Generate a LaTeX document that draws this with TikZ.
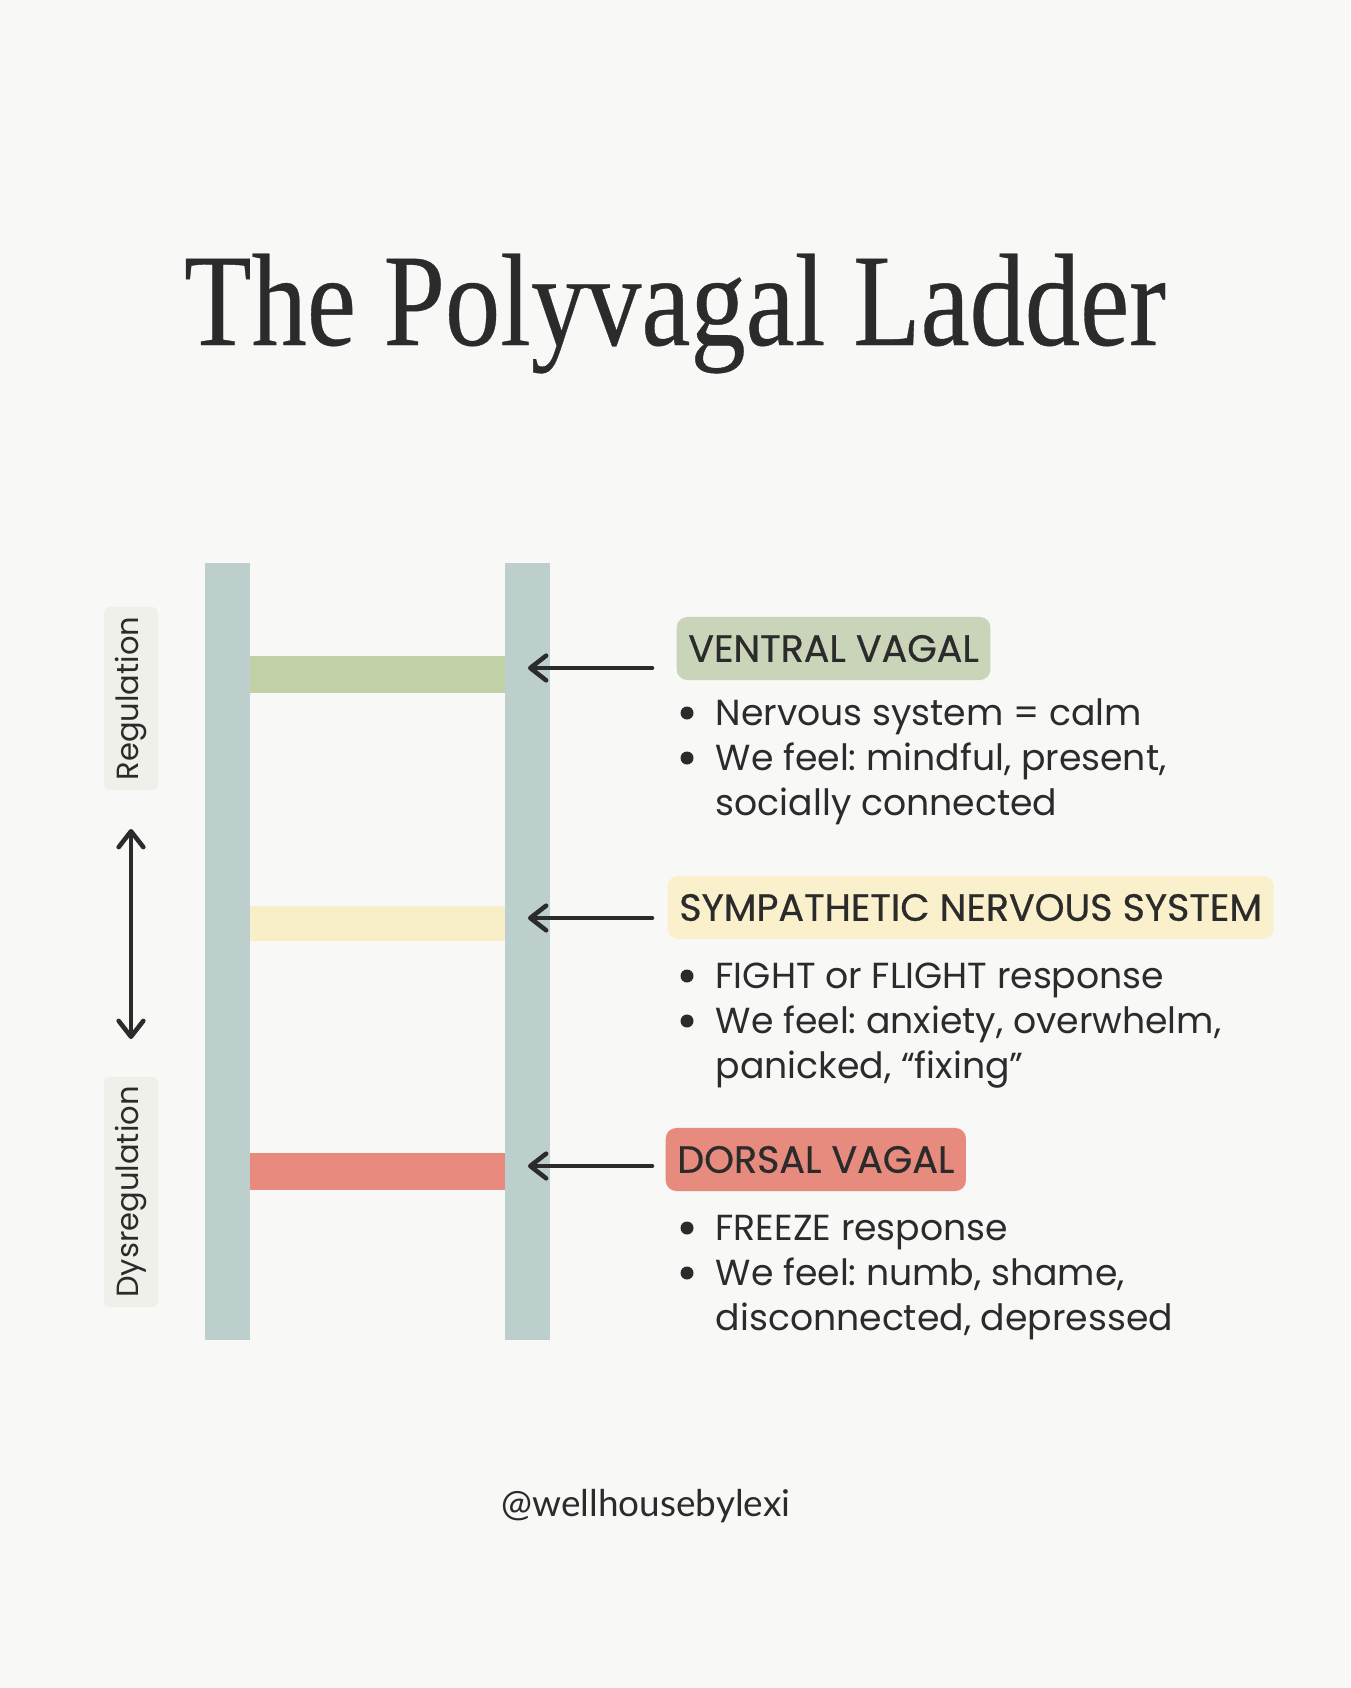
\documentclass[tikz,border=0pt]{standalone}
\usepackage{fontspec}
\setmainfont{Poppins}
\newfontfamily\headfont{Poppins}[FakeBold=0.6]
\newfontfamily\titlefont{Liberation Serif}[FakeBold=0.3]
\newfontfamily\tagfont{Lato}
\usetikzlibrary{arrows.meta,positioning}
\definecolor{paper}{HTML}{F8F8F7}
\definecolor{ink}{HTML}{2B2B2B}
\definecolor{railc}{HTML}{BDCFCD}
\definecolor{ventc}{HTML}{C1D0A7}
\definecolor{venthead}{HTML}{C9D4B9}
\definecolor{sympc}{HTML}{F8EEC8}
\definecolor{symphead}{HTML}{FAF0CB}
\definecolor{dorsc}{HTML}{E98A7F}
\definecolor{dorshead}{HTML}{E88B7F}
\definecolor{sidec}{HTML}{F0F0EB}
\frenchspacing

\begin{document}
\begin{tikzpicture}[x=0.01cm, y=-0.01cm,
  head/.style={anchor=west, rounded corners=3pt, minimum height=0.63cm, inner xsep=3.3pt, inner ysep=0pt, text=ink, font=\headfont\fontsize{10.8}{13}\selectfont},
  blurb/.style={anchor=base west, inner sep=0pt, text=ink, font=\fontsize{10.3}{13}\selectfont},
  dot/.style={circle, fill=ink, inner sep=0pt, minimum size=0.13cm},
  side/.style={rotate=90, fill=sidec, rounded corners=1.5pt, minimum height=0.54cm, inner sep=0pt, text=ink, font=\fontsize{8.7}{10}\selectfont},
  ptr/.style={draw=ink, line width=1.3pt, line cap=round, -{Straight Barb[round,length=4.5pt,width=7pt]}}]
\fill[paper] (0,0) rectangle (1350,1688);
\useasboundingbox (0,0) rectangle (1350,1688);

\node[anchor=base, text=ink, font=\titlefont\fontsize{37.4}{40}\selectfont] (title) at (675,345) {\scalebox{0.84}[1]{The Polyvagal Ladder}};

\fill[ventc] (250,656) rectangle (505,693);
\fill[sympc] (250,906) rectangle (505,941);
\fill[dorsc] (250,1153) rectangle (505,1190);
\fill[railc] (204.5,563) rectangle (250,1340);
\fill[railc] (505,563) rectangle (550,1340);

\node[side, minimum width=1.83cm] (reg) at (131,698.5) {Regulation};
\node[side, minimum width=2.30cm] (dysreg) at (131,1192) {Dysregulation};
\coordinate (up) at (131,829);
\coordinate (down) at (131,1039);
\draw[ptr, {Straight Barb[round,length=4.5pt,width=7pt]}-{Straight Barb[round,length=4.5pt,width=7pt]}] (up) -- (down);

\node[head, fill=venthead] (vv) at (676,648.5) {VENTRAL VAGAL};
\node[blurb] (vv1) at (715,725) {Nervous system = calm};
\node[blurb] (vv2) at (715,770) {We feel: mindful, present,};
\node[blurb] (vv3) at (715,815) {socially connected};
\node[dot] (vv1b) at (687,713) {};
\node[dot] (vv2b) at (687,758) {};

\node[head, fill=symphead] (sns) at (667,907.5) {SYMPATHETIC NERVOUS SYSTEM};
\node[blurb] (sns1) at (715,988) {FIGHT or FLIGHT response};
\node[blurb] (sns2) at (715,1033) {We feel: anxiety, overwhelm,};
\node[blurb] (sns3) at (715,1078) {panicked, “fixing”};
\node[dot] (sns1b) at (687,976) {};
\node[dot] (sns2b) at (687,1021) {};

\node[head, fill=dorshead] (dv) at (665,1159.5) {DORSAL VAGAL};
\node[blurb] (dv1) at (715,1240) {FREEZE response};
\node[blurb] (dv2) at (715,1285) {We feel: numb, shame,};
\node[blurb] (dv3) at (715,1330) {disconnected, depressed};
\node[dot] (dv1b) at (687,1228) {};
\node[dot] (dv2b) at (687,1273) {};

\coordinate (vvfrom) at (652,668);
\coordinate (vvto) at (528,668);
\coordinate (snsfrom) at (652,918);
\coordinate (snsto) at (528,918);
\coordinate (dvfrom) at (652,1166);
\coordinate (dvto) at (528,1166);
\draw[ptr] (vvfrom) -- (vvto);
\draw[ptr] (snsfrom) -- (snsto);
\draw[ptr] (dvfrom) -- (dvto);

\node[anchor=base, text=ink, font=\tagfont\fontsize{10.5}{12}\selectfont] (handle) at (646,1516) {@wellhousebylexi};
\end{tikzpicture}
\end{document}
